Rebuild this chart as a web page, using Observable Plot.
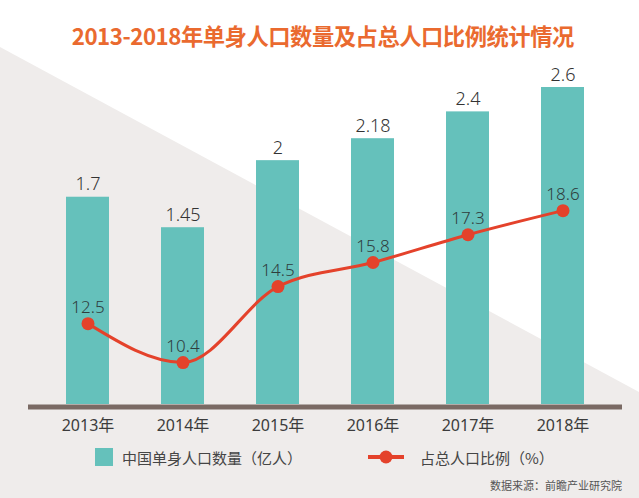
<!DOCTYPE html>
<html>
<head>
<meta charset="utf-8">
<script src="https://cdn.jsdelivr.net/npm/d3@7"></script>
<script src="https://cdn.jsdelivr.net/npm/@observablehq/plot@0.6"></script>
<style>
  html, body { margin: 0; padding: 0; background: #fff; }
  #wrap { position: relative; width: 639px; height: 498px; overflow: hidden; background: #fff;
          font-family: "Noto Sans CJK SC", "Noto Sans", sans-serif; }
  #bg { position: absolute; left: 0; top: 0; width: 639px; height: 498px; background: #efeceb;
        clip-path: polygon(0 47px, 639px 392px, 639px 498px, 0 498px); }
  #title { position: absolute; left: 0; width: 639px; top: 18px; text-align: center; padding-left: 7px; box-sizing: border-box; }
  #title span { display: inline-block; font-size: 23px; font-weight: bold; color: #ea6a2f;
                transform: scaleX(0.97); white-space: nowrap; letter-spacing: -0.5px; }
  #chart { position: absolute; left: 0; top: 55px; }
  #chart svg { overflow: visible; }
  .leg { position: absolute; font-size: 15px; color: #454545; white-space: nowrap; line-height: 18px; }
  #source { position: absolute; right: 17px; top: 477px; font-size: 11px; color: #555; white-space: nowrap; }
</style>
</head>
<body>
<div id="wrap">
  <div id="bg"></div>
  <div id="title"><span>2013-2018年单身人口数量及占总人口比例统计情况</span></div>
  <div id="chart"></div>
  <div class="leg" style="left:95px; top:448px;"><span style="display:inline-block;width:18px;height:18px;background:#65c1bb;vertical-align:top;"></span></div>
  <div class="leg" id="leg1" style="left:122px; top:449px;"></div>
  <svg style="position:absolute; left:366px; top:447px;" width="40" height="20">
    <line x1="2" y1="10" x2="38" y2="10" stroke="#e4422b" stroke-width="4"></line>
    <circle cx="20" cy="10" r="6.5" fill="#e4422b"></circle>
  </svg>
  <div class="leg" id="leg2" style="left:420px; top:449px;"></div>
  <div id="source"></div>
</div>
<script>
// ---- data ----
const years = ["2013年", "2014年", "2015年", "2016年", "2017年", "2018年"];
const singles = [1.7, 1.45, 2, 2.18, 2.4, 2.6];          // 中国单身人口数量（亿人）
const shares = [12.5, 10.4, 14.5, 15.8, 17.3, 18.6];     // 占总人口比例（%）
const seriesNames = ["中国单身人口数量（亿人）", "占总人口比例（%）"];
const sourceText = "数据来源：前瞻产业研究院";

// secondary (percent) axis mapped onto the bar axis units
const shareToY = d3.scaleLinear().domain([10.4, 18.6]).range([0.344, 1.59]);

const data = years.map((year, i) => ({ year, n: singles[i], p: shares[i], py: shareToY(shares[i]) }));

document.getElementById("leg1").textContent = seriesNames[0];
document.getElementById("leg2").textContent = seriesNames[1];
document.getElementById("source").textContent = sourceText;

const teal = "#65c1bb", red = "#e4422b";

const chart = Plot.plot({
  width: 639,
  height: 385,
  marginTop: 32,
  marginBottom: 36,
  marginLeft: 28,
  marginRight: 17,
  x: { domain: years, paddingInner: 0.55, paddingOuter: 0.385, axis: null },
  y: { domain: [0, 2.6], axis: null },
  style: { background: "transparent", fontFamily: "'Noto Sans', 'Noto Sans CJK SC', sans-serif", overflow: "visible" },
  marks: [
    Plot.barY(data, { x: "year", y: "n", fill: teal }),
    Plot.text(data, { x: "year", y: "n", text: d => String(d.n), dy: -7, lineAnchor: "bottom",
                      fontSize: 18, fontWeight: 300, fill: "#333", letterSpacing: 1 }),
    Plot.ruleY([0], { dy: 2.5, strokeWidth: 5, stroke: "#7a6a64" }),
    Plot.text(data, { x: "year", y: 0, text: "year", dy: 21, lineAnchor: "middle",
                      fontSize: 16, fill: "#3c3c3c" }),
    Plot.line(data, { x: "year", y: "py", curve: "monotone-x", stroke: red, strokeWidth: 3 }),
    Plot.dot(data, { x: "year", y: "py", r: 6.5, fill: red }),
    Plot.text(data, { x: "year", y: "py", text: d => String(d.p), dy: -11, lineAnchor: "bottom",
                      fontSize: 17, fontWeight: 300, fill: "#2f3d3d", letterSpacing: 1 })
  ]
});
document.getElementById("chart").appendChild(chart);
</script>
</body>
</html>
